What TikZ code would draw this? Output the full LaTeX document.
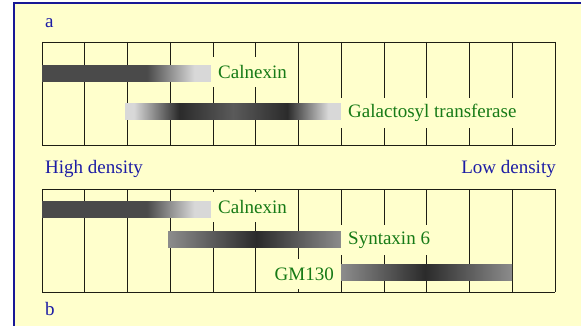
\documentclass[tikz,border=0pt]{standalone}
\usepackage{fontspec}
\setmainfont{Liberation Serif}
\definecolor{bgyellow}{RGB}{255,255,204}
\definecolor{framecol}{RGB}{24,24,150}
\definecolor{bluetext}{RGB}{28,28,165}
\definecolor{greentext}{RGB}{22,122,22}
\definecolor{gridcol}{RGB}{30,30,20}
\definecolor{cdark}{RGB}{74,74,74}
\definecolor{clight}{RGB}{216,216,216}
\definecolor{cdeep}{RGB}{43,43,43}
\definecolor{cmid}{RGB}{90,90,90}
\definecolor{cgray}{RGB}{140,140,140}
\pgfdeclarehorizontalshading{calnexshade}{100bp}{color(0bp)=(cdark); color(25bp)=(cdark); color(56bp)=(cdark); color(70bp)=(clight); color(75bp)=(clight); color(100bp)=(clight)}
\pgfdeclarehorizontalshading{galshade}{100bp}{color(0bp)=(clight); color(25bp)=(clight); color(27bp)=(clight); color(37.5bp)=(cdeep); color(50bp)=(cmid); color(62.5bp)=(cdeep); color(72bp)=(clight); color(75bp)=(clight); color(100bp)=(clight)}
\pgfdeclarehorizontalshading{synshade}{100bp}{color(0bp)=(cgray); color(25bp)=(cgray); color(50.5bp)=(cdeep); color(75bp)=(cgray); color(100bp)=(cgray)}
\pgfdeclarehorizontalshading{gmshade}{100bp}{color(0bp)=(cgray); color(25bp)=(cgray); color(49.5bp)=(cdeep); color(75bp)=(cgray); color(100bp)=(cgray)}
\begin{document}
\begin{tikzpicture}[x=1pt,y=-1pt,
  bar/.style={shape=rectangle, inner sep=0pt, minimum height=16pt, anchor=west},
  lbl/.style={fill=bgyellow, text=greentext, inner xsep=7pt, inner ysep=0pt, minimum height=30pt, font=\fontsize{19}{22}\selectfont},
  side/.style={text=bluetext, inner sep=0pt, font=\fontsize{19}{22}\selectfont},
  gridline/.style={gridcol, line width=0.95pt}]
\useasboundingbox (0,0) rectangle (581,326);
\fill[white] (0,0) rectangle (581,326);
\draw[framecol, line width=2pt, fill=bgyellow] (14,3) rectangle (600,345);
% grid a
\foreach \k in {0,...,12} \draw[gridline] ({42+\k*42.75},42) -- ({42+\k*42.75},145);
\draw[gridline] (42,42) -- (555,42);
\draw[gridline] (42,145) -- (555,145);
% grid b
\foreach \k in {0,...,12} \draw[gridline] ({42+\k*42.75},189) -- ({42+\k*42.75},292);
\draw[gridline] (42,189) -- (555,189);
\draw[gridline] (42,292) -- (555,292);
% bars a
\node[bar, shading=calnexshade, minimum width=169pt] (calA) at (42,74) {};
\node[bar, shading=galshade, minimum width=216pt] (galA) at (125,112) {};
% bars b
\node[bar, shading=calnexshade, minimum width=169pt] (calB) at (42,209) {};
\node[bar, shading=synshade, minimum width=173pt] (synB) at (168,239) {};
\node[bar, shading=gmshade, minimum width=171pt] (gmB) at (341,272) {};
% labels
\node[lbl, anchor=base west] (calAl) at (211,78.5) {Calnexin};
\node[lbl, anchor=base west] (galAl) at (341,118) {Galactosyl transferase};
\node[lbl, anchor=base west] (calBl) at (211,213.5) {Calnexin};
\node[lbl, anchor=base west] (synBl) at (341,244) {Syntaxin 6};
\node[lbl, anchor=base east] (gmBl) at (341,280) {GM130};
% side texts
\node[side, anchor=base west] (pa) at (45,28) {a};
\node[side, anchor=base west] (pb) at (45,315) {b};
\node[side, anchor=base west] (hd) at (45,173) {High density};
\node[side, anchor=base east] (ld) at (556,173) {Low density};
\end{tikzpicture}
\end{document}
